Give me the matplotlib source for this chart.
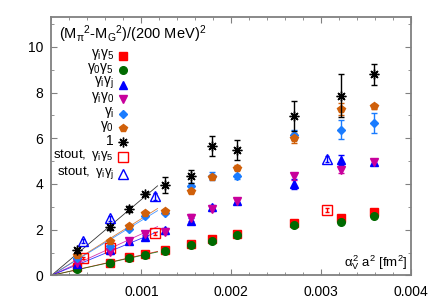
import numpy as np
import matplotlib.pyplot as plt

plt.rcParams['font.family'] = ['Liberation Sans', 'DejaVu Sans']
plt.rcParams['mathtext.fontset'] = 'custom'
plt.rcParams['mathtext.rm'] = 'Liberation Sans'
plt.rcParams['mathtext.it'] = 'Liberation Sans'
plt.rcParams['mathtext.bf'] = 'Liberation Sans:bold'

# x positions (alpha_V^2 a^2 in fm^2)
x = [0.00028, 0.00065, 0.00086, 0.00104, 0.00126, 0.00155, 0.00179,
     0.00206, 0.00270, 0.00322, 0.00359]
x_stout = [0.000353, 0.00065, 0.001155, 0.00306]

# channel values
gi_g5 = [0.36, 0.56, 0.80, 0.95, 1.10, 1.38, 1.58, 1.80, 2.28, 2.53, 2.78]
g0_g5 = [0.29, 0.53, 0.78, 0.91, 1.05, 1.31, 1.50, 1.78, 2.20, 2.34, 2.60]
gi_gj = [0.50, 1.10, 1.50, 1.70, 2.00, 2.38, 2.98, 3.25, 4.00, 5.04, 4.96]
gi_g0 = [0.54, 1.03, 1.52, 1.79, 1.90, 2.53, 2.90, 3.27, 4.33, 4.60, 4.96]
g_i = [0.75, 1.30, 2.05, 2.62, 2.75, 3.90, 4.35, 4.33, 6.14, 6.38, 6.66]
g_0 = [0.90, 1.50, 2.16, 2.72, 2.82, 3.68, 4.30, 4.71, 6.00, 7.27, 7.40]
one = [1.10, 2.10, 2.90, 3.56, 3.96, 4.33, 5.67, 5.48, 6.97, 7.86, 8.80]
stout_gi_g5 = [0.76, 1.22, 1.84, 2.87]
stout_gi_gj = [1.50, 2.50, 3.46, 5.10]

# errors
err_small = [0.04] * 11
err_gi_gj = [0.05, 0.05, 0.05, 0.06, 0.08, 0.12, 0.10, 0.10, 0.22, 0.22, 0.15]
err_gi_g0 = [0.05, 0.08, 0.06, 0.08, 0.08, 0.15, 0.10, 0.10, 0.15, 0.10, 0.15]
err_g_i = [0.05, 0.05, 0.05, 0.06, 0.08, 0.15, 0.18, 0.10, 0.20, 0.40, 0.43]
err_g_0 = [0.05, 0.05, 0.05, 0.06, 0.06, 0.08, 0.08, 0.10, 0.22, 0.25, 0.10]
err_one = [0.10, 0.10, 0.12, 0.10, 0.35, 0.30, 0.45, 0.45, 0.65, 0.95, 0.45]
err_stout_g5 = [0.05, 0.05, 0.06, 0.08]
err_stout_gj = [0.08, 0.10, 0.15, 0.12]

# fitted slopes of the small-a lines
x_fit_max = 0.00118
slopes = {'one': 3320, 'g0': 2480, 'gi': 2400, 'gig0': 1810, 'gigj': 1620,
          'gig5': 890, 'g0g5': 870}

c_red = '#ff0000'
c_green = '#006a00'
c_blue = '#0000ff'
c_mag = '#c8009c'
c_lblue = '#1a7cff'
c_orange = '#d0600a'
c_black = '#000000'

W, H = 436, 305
fig = plt.figure(figsize=(W / 100, H / 100), dpi=100)
ax = fig.add_axes([0.118, 0.097, 0.825, 0.847])

xf = np.array([0, x_fit_max])
for key, col in [('one', c_black), ('g0', c_orange), ('gi', c_lblue),
                 ('gig0', c_mag), ('gigj', c_blue), ('gig5', c_red),
                 ('g0g5', c_green)]:
    ax.plot(xf, slopes[key] * xf, color=col, lw=0.6, alpha=0.8, zorder=1)

ms = 5.5
legend_items = []
series = [
    (gi_g5, err_small, 's', c_red, r'$\gamma_i\gamma_5$'),
    (g0_g5, err_small, 'o', c_green, r'$\gamma_0\gamma_5$'),
    (gi_gj, err_gi_gj, '^', c_blue, r'$\gamma_i\gamma_j$'),
    (gi_g0, err_gi_g0, 'v', c_mag, r'$\gamma_i\gamma_0$'),
    (g_i, err_g_i, 'D', c_lblue, r'$\gamma_i$'),
    (g_0, err_g_0, 'p', c_orange, r'$\gamma_0$'),
]
for y, e, m, c, lab in series:
    msz = ms - 1.5 if m == 'D' else ms
    ax.errorbar(x, y, yerr=e, fmt=m, color=c, ms=msz, mec=c, lw=1.0,
                capsize=2, capthick=1, zorder=3)
    legend_items.append((lab, dict(marker=m, color=c, ms=msz)))

ax.errorbar(x, one, yerr=err_one, fmt='none', ecolor=c_black, lw=1.0,
            capsize=2.5, capthick=1, zorder=4)
star = dict(marker=(8, 2, 0), color=c_black, ms=7, mew=1.0)
ax.plot(x, one, ls='none', zorder=4, **star)
legend_items.append(('1', star))

sq_open = dict(marker='s', mfc='none', mec=c_red, color=c_red, ms=ms + 1,
               mew=1.0)
ax.errorbar(x_stout, stout_gi_g5, yerr=err_stout_g5, fmt='none',
            ecolor=c_red, lw=1.0, capsize=1.5, zorder=3)
ax.plot(x_stout, stout_gi_g5, ls='none', zorder=3, **sq_open)
legend_items.append((r'$\mathrm{stout,}\ \gamma_i\gamma_5$', sq_open))

tri_open = dict(marker='^', mfc='none', mec=c_blue, color=c_blue, ms=ms + 1,
                mew=1.0)
ax.errorbar(x_stout, stout_gi_gj, yerr=err_stout_gj, fmt='none',
            ecolor=c_blue, lw=1.0, capsize=1.5, zorder=3)
ax.plot(x_stout, stout_gi_gj, ls='none', zorder=3, **tri_open)
legend_items.append((r'$\mathrm{stout,}\ \gamma_i\gamma_j$', tri_open))

ax.set_xlim(0, 0.004)
ax.set_ylim(0, 11.3)
ax.set_xticks([0.001, 0.002, 0.003, 0.004])
ax.set_xticklabels(['0.001', '0.002', '0.003', '0.004'])
ax.set_xticks(np.arange(0, 0.0041, 0.0002), minor=True)
ax.set_yticks([0, 2, 4, 6, 8, 10])
ax.set_yticks(np.arange(0, 11.3, 1), minor=True)
ax.tick_params(which='both', direction='in', top=True, right=True,
               color='#808080', labelsize=10)
ax.tick_params(axis='x', pad=7)
ax.tick_params(axis='y', pad=6)
ax.tick_params(which='major', length=4)
ax.tick_params(which='minor', length=2.5)
for s in ax.spines.values():
    s.set_color('#808080')
    s.set_linewidth(1.3)

ax.text(0.022, 0.975, r'(M$_\pi$$^2$-M$_G$$^2$)/(200 MeV)$^2$',
        transform=ax.transAxes, ha='left', va='top', fontsize=10.5)
ax.text(0.99, 0.015, r'$\alpha_V^2$ a$^2$ [fm$^2$]', transform=ax.transAxes,
        ha='right', va='bottom', fontsize=9.5)

# hand-placed key, gnuplot style: label on the left, symbol on the right
for i, (lab, style) in enumerate(legend_items):
    ypx = 56 + 14.4 * i + (3 if i == 8 else 0)
    yp = 1 - ypx / H
    ax.plot([123 / W], [yp], ls='none', transform=fig.transFigure,
            clip_on=False, **style)
    fsz = 9.5 if i >= 7 else 10
    fig.text(114 / W, yp + 1.5 / H, lab, ha='right', va='center',
             fontsize=fsz)

fig.savefig('out.png', dpi=100)
